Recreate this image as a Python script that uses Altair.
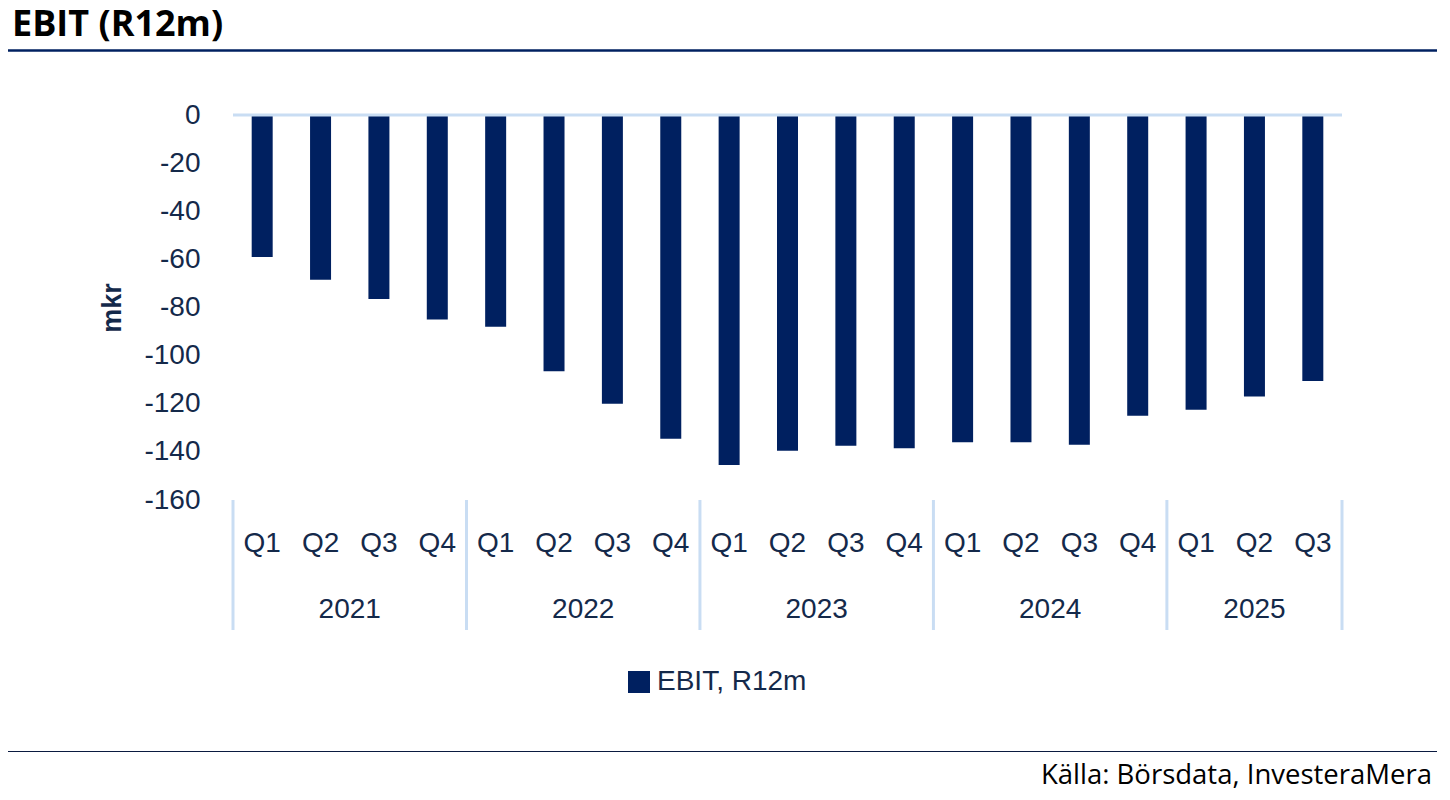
import altair as alt
import pandas as pd

# ---- data ----
years = ["2021"] * 4 + ["2022"] * 4 + ["2023"] * 4 + ["2024"] * 4 + ["2025"] * 3
quarters = ["Q1", "Q2", "Q3", "Q4"] * 4 + ["Q1", "Q2", "Q3"]
ebit = [-59, -68.5, -76.5, -85, -88, -106.5, -120, -134.5,
        -145.5, -139.5, -137.5, -138.5, -136, -136, -137, -125,
        -122.5, -117, -110.5]
y_ticks = [0, -20, -40, -60, -80, -100, -120, -140, -160]
series_name = "EBIT, R12m"
title_text = "EBIT (R12m)"
source_text = "Källa: Börsdata, InvesteraMera"
y_title = "mkr"

NAVY = "#002060"
LIGHT = "#c9ddf3"
TXT = "#14294a"
AX_FONT = "Liberation Sans"

df = pd.DataFrame({"year": years, "q": quarters, "ebit": ebit})
df["idx"] = range(len(df))
df["series"] = series_name

g = df.groupby("year")["idx"]
year_pos = pd.DataFrame({"year": g.mean().index, "pos": g.mean().values})
bounds = list(g.min().values - 0.5) + [df["idx"].max() + 0.5]
sep = pd.DataFrame({"b": bounds})

W, H = 1109, 385
xscale = alt.Scale(domain=[df["idx"].min() - 0.5, df["idx"].max() + 0.5],
                   nice=False, zero=False, padding=0)
yscale = alt.Scale(domain=[min(y_ticks), max(y_ticks)], nice=False)

base = alt.Chart(df)

bars = base.mark_bar(size=21).encode(
    x=alt.X("idx:Q", scale=xscale, axis=None),
    y=alt.Y("ebit:Q", scale=yscale,
            axis=alt.Axis(values=y_ticks, labelExpr="'' + datum.value",
                          domain=False, ticks=False, grid=False,
                          labelFont=AX_FONT, labelFontSize=28, labelColor=TXT,
                          labelPadding=33,
                          title=y_title, titleFont=AX_FONT, titleFontSize=27,
                          titleFontWeight="bold", titleColor=TXT,
                          titleAngle=270, titleX=-121, titleY=H / 2,
                          titleAlign="center", titleBaseline="middle")),
    color=alt.Color("series:N", scale=alt.Scale(range=[NAVY]),
                    legend=alt.Legend(orient="none", legendX=392, legendY=553,
                                      title=None, symbolType="square",
                                      symbolSize=484, symbolStrokeWidth=0,
                                      labelFont=AX_FONT, labelFontSize=28,
                                      labelColor=TXT, labelOffset=4, padding=0)),
)

zero_line = alt.Chart(pd.DataFrame({"a": [xscale.domain[0]], "b": [xscale.domain[1]], "y": [0]})).mark_rule(
    color=LIGHT, strokeWidth=3).encode(
    x=alt.X("a:Q", scale=xscale), x2="b:Q", y=alt.Y("y:Q", scale=yscale))

separators = alt.Chart(sep).mark_rule(color=LIGHT, strokeWidth=3).encode(
    x=alt.X("b:Q", scale=xscale), y=alt.value(385), y2=alt.value(515))

q_labels = base.mark_text(font=AX_FONT, fontSize=28, color=TXT, baseline="middle").encode(
    x=alt.X("idx:Q", scale=xscale), y=alt.value(429), text="q:N")

y_labels = alt.Chart(year_pos).mark_text(font=AX_FONT, fontSize=28, color=TXT, baseline="middle").encode(
    x=alt.X("pos:Q", scale=xscale), y=alt.value(495), text="year:N")

ann = pd.DataFrame({"t": [title_text], "s": [source_text]})
title = alt.Chart(ann).mark_text(font="Open Sans", fontSize=36, fontWeight="bold", color="#000000",
                                 align="left", baseline="alphabetic").encode(
    x=alt.value(-221), y=alt.value(-79), text="t:N")
source = alt.Chart(ann).mark_text(font="Open Sans", fontSize=27.5, color="#000000",
                                  align="right", baseline="alphabetic").encode(
    x=alt.value(1199), y=alt.value(669), text="s:N")
top_rule = alt.Chart(ann).mark_rule(color=NAVY, strokeWidth=2.5).encode(
    x=alt.value(-228), x2=alt.value(1204), y=alt.value(-64.5))
bottom_rule = alt.Chart(ann).mark_rule(color="#0a1a40", strokeWidth=1).encode(
    x=alt.value(-228), x2=alt.value(1204), y=alt.value(636.5))

chart = alt.layer(bars, zero_line, separators, q_labels, y_labels,
                  title, source, top_rule, bottom_rule).properties(
    width=W, height=H,
    autosize=alt.AutoSizeParams(type="none"),
    padding={"left": 225, "top": 107, "right": 100, "bottom": 292},
    background="white",
).configure_view(stroke=None)

chart.save("out.html", embed_options={"renderer": "svg", "actions": False})
